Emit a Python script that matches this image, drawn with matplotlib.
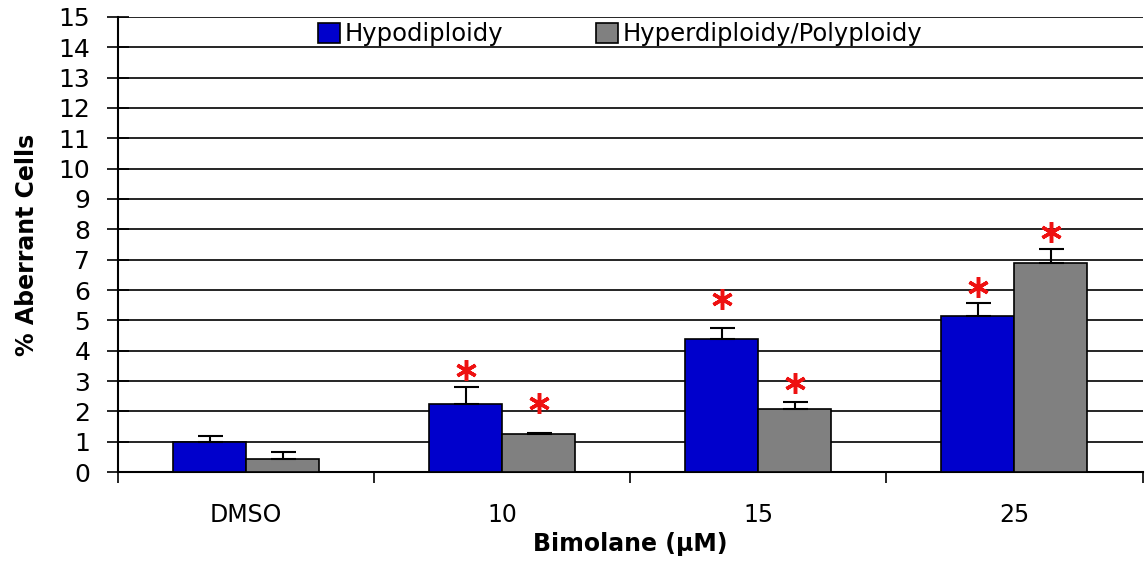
import numpy as np
import matplotlib.pyplot as plt

# data
groups = ['DMSO', '10', '15', '25']
hypo = [1.0, 2.25, 4.4, 5.15]
hypo_err = [0.18, 0.55, 0.34, 0.42]
hyper = [0.42, 1.25, 2.07, 6.88]
hyper_err = [0.23, 0.05, 0.24, 0.46]
# significance stars (None = no star), y position of each star
hypo_star = [None, 3.35, 5.7, 6.1]
hyper_star = [None, 2.27, 2.95, 7.9]

fig = plt.figure(figsize=(11.46, 5.64), dpi=100)
ax = fig.add_axes([0.103, 0.163, 0.894, 0.807])

x = np.arange(len(groups))
w = 0.285

ax.bar(x - w/2, hypo, w, color='#0000CC', edgecolor='black', linewidth=1.2,
       label='Hypodiploidy', zorder=3)
ax.bar(x + w/2, hyper, w, color='#808080', edgecolor='black', linewidth=1.2,
       label='Hyperdiploidy/Polyploidy', zorder=3)
ax.errorbar(x - w/2, hypo, yerr=[np.zeros(4), hypo_err], fmt='none',
            ecolor='black', elinewidth=1.5, capsize=9, capthick=1.5, zorder=4)
ax.errorbar(x + w/2, hyper, yerr=[np.zeros(4), hyper_err], fmt='none',
            ecolor='black', elinewidth=1.5, capsize=9, capthick=1.5, zorder=4)

for i in range(len(groups)):
    for xs, ys in ((x[i] - w/2, hypo_star[i]), (x[i] + w/2, hyper_star[i])):
        if ys is not None:
            ax.plot(xs, ys, marker=(6, 2, 0), color='#EE1111', markersize=15,
                    mew=2.5, zorder=5, clip_on=False)

ax.set_xlim(-0.5, 3.5)
ax.set_ylim(0, 15)
ax.set_yticks(range(16))
ax.yaxis.grid(True, color='black', linewidth=1.2, zorder=0)
ax.set_axisbelow(True)

ax.set_xticks(x)
ax.set_xticklabels(groups)
ax.set_xticks(np.arange(-0.5, 3.6, 1), minor=True)
ax.tick_params(axis='x', which='major', length=0, pad=22, labelsize=17)
ax.tick_params(axis='x', which='minor', direction='out', length=8, width=1.2)
ax.tick_params(axis='y', direction='inout', length=16, width=1.2, labelsize=18, pad=12)

for s in ['top', 'right']:
    ax.spines[s].set_visible(False)
ax.spines['left'].set_linewidth(1.5)
ax.spines['bottom'].set_linewidth(1.5)

ax.set_ylabel('% Aberrant Cells', fontsize=17, fontweight='bold', labelpad=14)
ax.set_xlabel('Bimolane (μM)', fontsize=17, fontweight='bold', labelpad=4)

leg = ax.legend(loc='upper center', bbox_to_anchor=(0.49, 1.02), ncol=2,
                frameon=False, fontsize=17.5, handlelength=0.9, handleheight=0.9,
                handletextpad=0.2, columnspacing=3.8, borderpad=0.1)
leg.set_zorder(6)

fig.savefig('out.png', dpi=100)
